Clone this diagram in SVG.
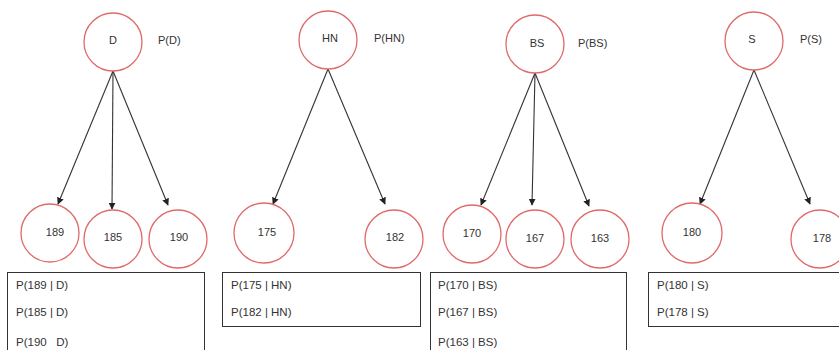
<svg xmlns="http://www.w3.org/2000/svg" width="839" height="350" viewBox="0 0 839 350">
<style>
.n{fill:#fff;stroke:#e06a6a;stroke-width:1.3}
.t{font-family:"Liberation Sans",Arial,sans-serif;font-size:11px;fill:#333;text-anchor:middle;dominant-baseline:central}
.p{font-family:"Liberation Sans",Arial,sans-serif;font-size:11px;fill:#333;dominant-baseline:central}
.b{fill:#fff;stroke:#333;stroke-width:1}
.bt{font-family:"Liberation Sans",Arial,sans-serif;font-size:11.5px;fill:#333;white-space:pre}
.e{stroke:#333;stroke-width:1.1;fill:none;marker-end:url(#a)}
</style>
<defs>
<marker id="a" viewBox="0 0 10 10" refX="9" refY="5" markerWidth="7" markerHeight="7" orient="auto" markerUnits="userSpaceOnUse">
<path d="M0,0 L10,5 L0,10 z" fill="#222"/>
</marker>
</defs>
<rect width="839" height="350" fill="#fff"/>
<g id="edges">
<line class="e" x1="113" y1="71" x2="58" y2="204"/>
<line class="e" x1="113" y1="71" x2="112" y2="209"/>
<line class="e" x1="113" y1="71" x2="168" y2="205"/>
<line class="e" x1="328" y1="69" x2="273" y2="204"/>
<line class="e" x1="328" y1="69" x2="385" y2="204"/>
<line class="e" x1="535" y1="73" x2="481" y2="205"/>
<line class="e" x1="535" y1="73" x2="532" y2="205"/>
<line class="e" x1="535" y1="73" x2="589" y2="206"/>
<line class="e" x1="754" y1="70" x2="700" y2="204"/>
<line class="e" x1="754" y1="70" x2="810" y2="204"/>
</g>
<g id="node-D"><circle class="n" cx="113" cy="42" r="29"/><text class="t" x="113" y="40">D</text></g>
<g id="label-PD"><text class="p" x="158" y="40">P(D)</text></g>
<g id="node-HN"><circle class="n" cx="328" cy="40" r="29"/><text class="t" x="330" y="38">HN</text></g>
<g id="label-PHN"><text class="p" x="374" y="38">P(HN)</text></g>
<g id="node-BS"><circle class="n" cx="535" cy="44" r="29"/><text class="t" x="537" y="43">BS</text></g>
<g id="label-PBS"><text class="p" x="578" y="43">P(BS)</text></g>
<g id="node-S"><circle class="n" cx="754" cy="41" r="29"/><text class="t" x="752" y="39">S</text></g>
<g id="label-PS"><text class="p" x="800" y="39">P(S)</text></g>

<g id="node-189"><circle class="n" cx="50" cy="233" r="29"/><text class="t" x="55" y="232">189</text></g>
<g id="node-185"><circle class="n" cx="113" cy="239" r="29"/><text class="t" x="113" y="237">185</text></g>
<g id="node-190"><circle class="n" cx="178" cy="239" r="29"/><text class="t" x="179" y="237">190</text></g>
<g id="node-175"><circle class="n" cx="264" cy="233" r="30"/><text class="t" x="267" y="232">175</text></g>
<g id="node-182"><circle class="n" cx="394" cy="239" r="29"/><text class="t" x="395" y="237">182</text></g>
<g id="node-170"><circle class="n" cx="472" cy="234" r="29"/><text class="t" x="472" y="233">170</text></g>
<g id="node-167"><circle class="n" cx="535" cy="239" r="29"/><text class="t" x="535" y="238">167</text></g>
<g id="node-163"><circle class="n" cx="600" cy="239" r="29"/><text class="t" x="600" y="238">163</text></g>
<g id="node-180"><circle class="n" cx="692" cy="233" r="30"/><text class="t" x="692" y="232">180</text></g>
<g id="node-178"><circle class="n" cx="820" cy="239" r="29"/><text class="t" x="822" y="238">178</text></g>

<g id="box-D">
<rect class="b" x="7.5" y="272.5" width="197" height="90"/>
<text class="bt" x="16" y="289">P(189 | D)</text>
<text class="bt" x="16" y="316">P(185 | D)</text>
<text class="bt" x="16" y="346">P(190   D)</text>
</g>
<g id="box-HN">
<rect class="b" x="222.5" y="272.5" width="198" height="54"/>
<text class="bt" x="231" y="289">P(175 | HN)</text>
<text class="bt" x="231" y="316">P(182 | HN)</text>
</g>
<g id="box-BS">
<rect class="b" x="430.5" y="272.5" width="196" height="90"/>
<text class="bt" x="438" y="289">P(170 | BS)</text>
<text class="bt" x="438" y="316">P(167 | BS)</text>
<text class="bt" x="438" y="346">P(163 | BS)</text>
</g>
<g id="box-S">
<rect class="b" x="648.5" y="272.5" width="200" height="54"/>
<text class="bt" x="657" y="289">P(180 | S)</text>
<text class="bt" x="657" y="316">P(178 | S)</text>
</g>
</svg>
